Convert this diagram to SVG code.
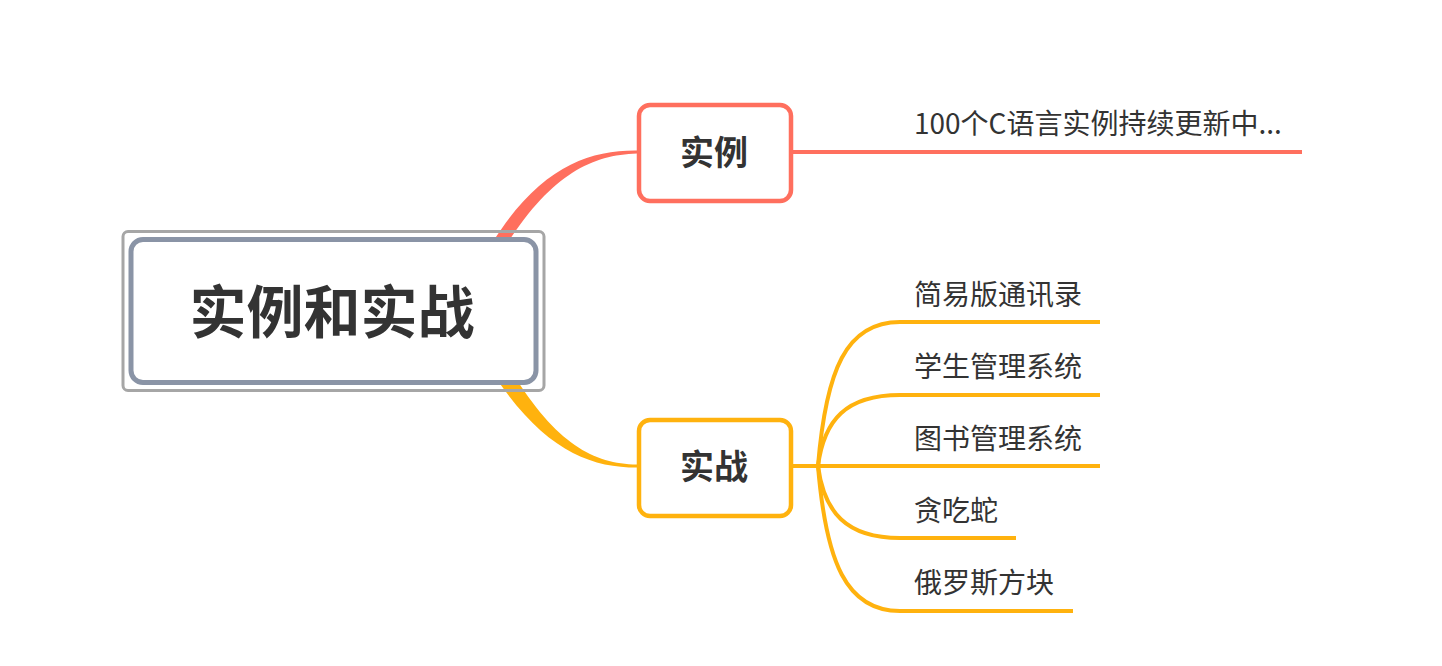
<svg xmlns="http://www.w3.org/2000/svg" width="1442" height="666" viewBox="0 0 1442 666">
<style>
.bg{fill:#ffffff}
.coral{stroke:#ff6f5e}
.amber{stroke:#ffb20e}
.line{fill:none;stroke-width:4;stroke-linecap:butt}
.leaf{font-family:"Noto Sans CJK SC","Noto Sans",sans-serif;font-size:28px;fill:#333333}
.title{font-family:"Noto Sans CJK SC","Noto Sans",sans-serif;font-weight:bold;fill:#333333;text-anchor:middle}
.box{fill:#ffffff;stroke-width:4.5}
</style>
<rect class="bg" x="0" y="0" width="1442" height="666"/>
<g id="connectors">
  <path d="M494,240 C540,168 588,150 637,150.5 L637,153.5 C592,155 552,174 507,244 Z" fill="#ff6f5e"/>
  <path d="M496,378 C545,450 590,467.5 637,467.5 L637,464.5 C594,464 556,444 512,372 Z" fill="#ffb20e"/>
  <path class="line coral" d="M793,152 L1302,152"/>
  <path class="line amber" d="M793,466 L1100,466"/>
  <path class="line amber" d="M818,466 C826,370 846,322 900,322 L1100,322"/>
  <path class="line amber" d="M818,466 C824,420 846,395 900,395 L1100,395"/>
  <path class="line amber" d="M818,466 C824,512 846,538 900,538 L1016,538"/>
  <path class="line amber" d="M818,466 C826,562 846,611 900,611 L1073,611"/>
</g>
<g id="root">
  <rect x="123" y="231.5" width="421" height="159" rx="5" fill="none" stroke="#a6a6a6" stroke-width="3"/>
  <rect x="131" y="239.5" width="405" height="143" rx="12" fill="#ffffff" stroke="#8a94a6" stroke-width="5"/>
  <text class="title" x="332" y="333" font-size="57">实例和实战</text>
</g>
<g id="node-shili">
  <rect class="box coral" x="639" y="105" width="152" height="96" rx="11"/>
  <text class="title" x="714" y="165" font-size="34">实例</text>
</g>
<g id="node-shizhan">
  <rect class="box amber" x="639" y="420" width="152" height="96" rx="11"/>
  <text class="title" x="714" y="479" font-size="34">实战</text>
</g>
<g id="leaf-1"><text class="leaf" x="914" y="134">100个C语言实例持续更新中...</text></g>
<g id="leaf-2"><text class="leaf" x="914" y="305">简易版通讯录</text></g>
<g id="leaf-3"><text class="leaf" x="914" y="377">学生管理系统</text></g>
<g id="leaf-4"><text class="leaf" x="914" y="449">图书管理系统</text></g>
<g id="leaf-5"><text class="leaf" x="914" y="521">贪吃蛇</text></g>
<g id="leaf-6"><text class="leaf" x="914" y="593">俄罗斯方块</text></g>
</svg>
